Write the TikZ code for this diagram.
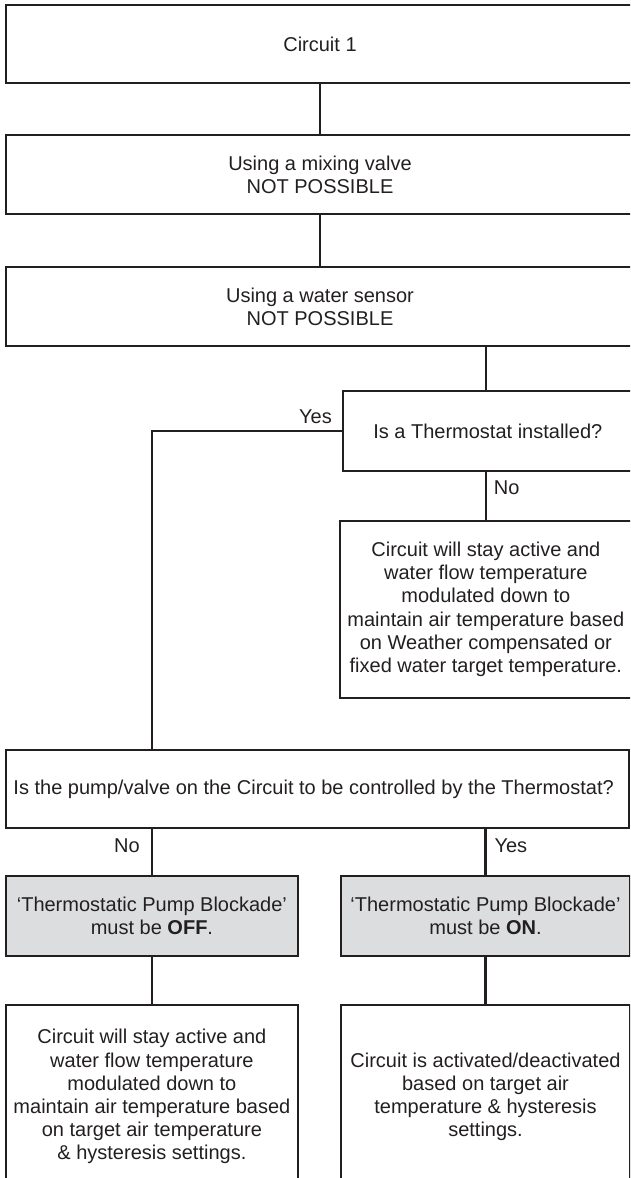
\documentclass[tikz,border=0pt]{standalone}
\usepackage{fontspec}
\setmainfont{Liberation Sans}
\usepackage{tikz}
\usetikzlibrary{positioning, calc}
\definecolor{flowInk}{HTML}{231F20}
\definecolor{flowGrey}{HTML}{DCDDDE}

\begin{document}
\begin{tikzpicture}[
  x=1pt, y=1pt,
  every node/.style={font=\fontsize{20}{23.2}\selectfont, text=flowInk},
  flowbox/.style n args={2}{
    rectangle, draw=flowInk, line width=2.2pt,
    minimum width=#1, minimum height=#2,
    inner sep=0pt, align=center
  },
  greybox/.style n args={2}{
    flowbox={#1}{#2}, fill=flowGrey
  },
  link/.style={draw=flowInk, line width=2.2pt},
  answer/.style={inner sep=0pt},
]
\useasboundingbox (0,0) rectangle (630,-1178);
\clip (0,0) rectangle (630,-1178);

% === MAIN COLUMN ===
\node[flowbox={628.8pt}{78pt}] (c1) at (320,-44) {Circuit 1};

\node[flowbox={628.8pt}{79pt}, below=50pt of c1] (mix) {
  Using a mixing valve\\
  NOT POSSIBLE
};

\node[flowbox={628.8pt}{79pt}, below=50.6pt of mix] (sensor) {
  Using a water sensor\\
  NOT POSSIBLE
};

% === Thermostat question ===
\node[flowbox={297pt}{80pt}] (thermo) at (491.5,-431) {
  Is a Thermostat installed?
};

\node[flowbox={292.3pt}{177pt}] (weather) at (485.85,-609.4) {
  Circuit will stay active and\\
  water flow temperature\\
  modulated down to\\
  maintain air temperature based\\
  on Weather compensated or\\
  fixed water target temperature.
};

% === Pump question ===
\node[flowbox={623.3pt}{77.7pt}] (pump) at (317.35,-788.9) {
  Is the pump/valve on the Circuit to be controlled by the Thermostat?
};

\node[greybox={292.3pt}{80pt}] (offbox) at (151.9,-916) {
  `Thermostatic Pump Blockade'\\
  must be \textbf{OFF}.
};

\node[greybox={289.5pt}{80pt}, right=40.5pt of offbox] (onbox) {
  `Thermostatic Pump Blockade'\\
  must be \textbf{ON}.
};

\node[flowbox={292.3pt}{183pt}, below=47pt of offbox] (resoff) {
  Circuit will stay active and\\
  water flow temperature\\
  modulated down to\\
  maintain air temperature based\\
  on target air temperature\\
  \& hysteresis settings.
};

\node[flowbox={289.5pt}{183pt}, below=47pt of onbox] (reson) {
  Circuit is activated/deactivated\\
  based on target air\\
  temperature \& hysteresis\\
  settings.
};

% === Connectors ===
\draw[link] (c1) -- (mix);
\draw[link] (mix) -- (sensor);
\draw[link] (sensor.south -| weather.north) -- (thermo.north -| weather.north);

\draw[link] (thermo.west)
  node[answer, anchor=south east, xshift=-9pt, yshift=6pt] (yes1) {Yes}
  -| (pump.north -| offbox.north);
\draw[link] (thermo.south -| weather.north)
  node[answer, anchor=north west, xshift=7pt, yshift=-8pt] (no1) {No}
  -- (weather.north);

\draw[link] (pump.south -| offbox.north)
  node[answer, anchor=north east, xshift=-11pt, yshift=-9pt] (no2) {No}
  -- (offbox.north);
\draw[link] (pump.south -| onbox.north)
  node[answer, anchor=north west, xshift=8pt, yshift=-9pt] (yes2) {Yes}
  -- (onbox.north);

\draw[link] (offbox) -- (resoff);
\draw[link] (onbox) -- (reson);

\end{tikzpicture}
\end{document}
